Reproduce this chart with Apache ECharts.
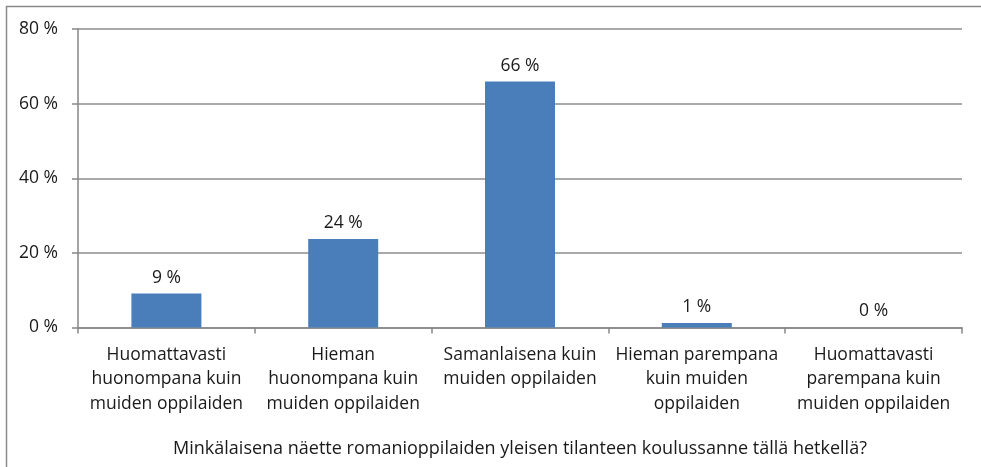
<!DOCTYPE html>
<html>
<head>
<meta charset="utf-8">
<script src="https://cdn.jsdelivr.net/npm/echarts@6/dist/echarts.min.js"></script>
<style>
html,body{margin:0;padding:0;background:#fff;}
#c{width:981px;height:467px;}
</style>
</head>
<body>
<div id="c"></div>
<script>
const categories = [
  "Huomattavasti\nhuonompana kuin\nmuiden oppilaiden",
  "Hieman\nhuonompana kuin\nmuiden oppilaiden",
  "Samanlaisena kuin\nmuiden oppilaiden",
  "Hieman parempana\nkuin muiden\noppilaiden",
  "Huomattavasti\nparempana kuin\nmuiden oppilaiden"
];
const values = [9.1, 23.7, 65.9, 1.2, 0];
const yTicks = [0, 20, 40, 60, 80];
const axisTitle = "Minkälaisena näette romanioppilaiden yleisen tilanteen koulussanne tällä hetkellä?";

const FONT = "Open Sans";
const FS = 17.5;
const chart = echarts.init(document.getElementById('c'), null, {renderer: 'canvas'});
chart.setOption({
  animation: false,
  backgroundColor: '#fff',
  graphic: [{
    type: 'polyline',
    shape: {points: [[6.5, 467], [6.5, 6.5], [981, 6.5]]},
    style: {stroke: '#8a8a8a', lineWidth: 1.5, fill: null},
    silent: true
  }],
  grid: {left: 78, right: 19, top: 29, bottom: 139.5, containLabel: false},
  xAxis: {
    type: 'category',
    data: categories,
    boundaryGap: true,
    axisLine: {show: true, lineStyle: {color: '#868686', width: 1.5}},
    axisTick: {show: true, alignWithLabel: false, length: 6, lineStyle: {color: '#868686', width: 1.5}},
    axisLabel: {
      interval: 0, color: '#1a1a1a', fontFamily: FONT, fontSize: FS,
      lineHeight: 24.5, margin: 15, align: 'center'
    },
    name: axisTitle,
    nameLocation: 'middle',
    nameGap: 112,
    nameTextStyle: {color: '#1a1a1a', fontFamily: FONT, fontSize: 18}
  },
  yAxis: {
    type: 'value',
    min: yTicks[0], max: yTicks[yTicks.length - 1], interval: 20,
    axisLine: {show: true, lineStyle: {color: '#868686', width: 1.5}},
    axisTick: {show: true, length: 6, lineStyle: {color: '#868686', width: 1.5}},
    splitLine: {show: true, lineStyle: {color: '#8c8c8c', width: 1.5}},
    axisLabel: {
      color: '#1a1a1a', fontFamily: FONT, fontSize: FS, margin: 20,
      formatter: v => v + ' %'
    }
  },
  series: [{
    type: 'bar',
    data: values,
    barWidth: 70,
    itemStyle: {color: '#4a7ebb'},
    label: {
      show: true, position: 'top', distance: 7,
      color: '#1a1a1a', fontFamily: FONT, fontSize: FS,
      formatter: p => Math.round(p.value) + ' %'
    }
  }]
});
</script>
</body>
</html>
